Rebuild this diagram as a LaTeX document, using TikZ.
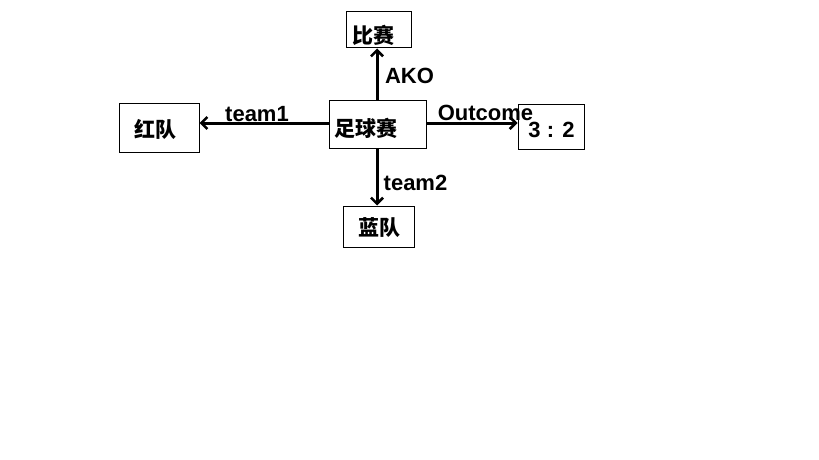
\documentclass[tikz,border=0pt]{standalone}
\usepackage{fontspec}
\setmainfont{Liberation Sans}
\newfontfamily\cjk{Noto Sans CJK SC}
\usetikzlibrary{arrows.meta}
\tikzset{
  box/.style={draw=black, line width=1pt, inner sep=0pt},
  cn/.style={inner sep=0pt, font=\fontsize{21}{24}\selectfont\cjk\bfseries},
  lt/.style={inner sep=0pt, font=\fontsize{22}{25}\selectfont\bfseries},
  arr/.style={line width=3pt, -{Straight Barb[length=6pt,width=12pt,line width=2.6pt]}},
}
\begin{document}
\begin{tikzpicture}[x=1pt,y=-1pt]
\useasboundingbox (0,0) rectangle (819,460);
% boxes
\node[box, minimum width=65pt, minimum height=36pt] (bisai) at (378.5,30) {};
\node[box, minimum width=97pt, minimum height=48pt] (zuqiu) at (377.5,124) {};
\node[box, minimum width=80pt, minimum height=49pt] (hong) at (159,127.5) {};
\node[box, minimum width=66pt, minimum height=45pt] (score) at (551,126.5) {};
\node[box, minimum width=71pt, minimum height=41pt] (lan) at (378.5,226.5) {};
% texts
\node[cn] (tbisai) at (373,35) {比赛};
\node[cn] (tzuqiu) at (366,128) {足球赛};
\node[cn] (thong) at (155,129) {红队};
\node[lt] (tscore) at (551.5,130) {3 : 2};
\node[cn] (tlan) at (379,228) {蓝队};
% connectors
\coordinate (zt) at (377,100);
\coordinate (zb) at (377,148);
\coordinate (zl) at (329,123);
\coordinate (zr) at (426,123);
\draw[arr] (zt) -- (bisai.south -| zt);
\draw[arr] (zl) -- (hong.east |- zl);
\draw[arr] (zr) -- (score.west |- zr);
\draw[arr] (zb) -- (lan.north -| zb);
% labels
\node[lt] (lako) at (409.5,76) {AKO};
\node[lt] (lteam1) at (257,114) {team1};
\node[lt] (lout) at (485.5,113) {Outcome};
\node[lt] (lteam2) at (415.5,183) {team2};
\end{tikzpicture}
\end{document}
